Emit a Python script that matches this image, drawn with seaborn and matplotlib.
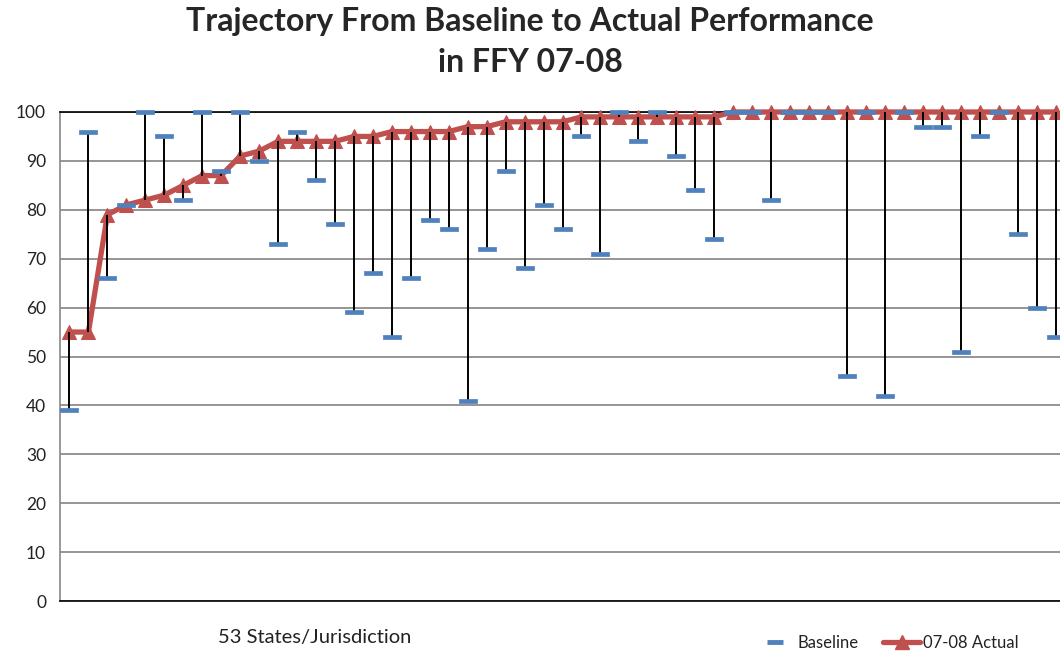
import numpy as np
import pandas as pd
import matplotlib
matplotlib.use("Agg")
import matplotlib.pyplot as plt
from matplotlib.lines import Line2D
from matplotlib.path import Path
import seaborn as sns

# Performance by state/jurisdiction, sorted by 07-08 actual
actual = [55, 55, 79, 81, 82, 83, 85, 87, 87, 91, 92, 94, 94, 94, 94, 95, 95, 96,
          96, 96, 96, 97, 97, 98, 98, 98, 98, 99, 99, 99, 99, 99, 99, 99, 99, 100,
          100, 100, 100, 100, 100, 100, 100, 100, 100, 100, 100, 100, 100, 100, 100,
          100, 100]
baseline = [39, 96, 66, 81, 100, 95, 82, 100, 88, 100, 90, 73, 96, 86, 77, 59, 67, 54,
            66, 78, 76, 41, 72, 88, 68, 81, 76, 95, 71, 100, 94, 100, 91, 84, 74, 100,
            100, 82, 100, 100, 100, 46, 100, 42, 100, 97, 97, 51, 95, 100, 75, 60, 54]
y_ticks = list(range(0, 101, 10))

df = pd.DataFrame({"state": np.arange(len(actual)), "actual": actual, "baseline": baseline})

sns.set_theme(style="white")
plt.rcParams["font.family"] = ["Lato", "DejaVu Sans"]

fig = plt.figure(figsize=(10.6, 6.54), dpi=100)
ax = fig.add_axes([60 / 1060, 1 - 601 / 654, 1005 / 1060, (601 - 112) / 654])

RED = "#C0504D"
BLUE = "#4F81BD"

# Actual performance line with triangle markers
sns.lineplot(data=df, x="state", y="actual", ax=ax, color=RED, linewidth=3.8,
             marker="^", markersize=10, markeredgecolor=RED, zorder=3, legend=False,
             clip_on=False)

# High-low connectors from baseline to actual
ax.vlines(df["state"], df["baseline"], df["actual"], color="black", linewidth=1.4,
          zorder=4, clip_on=False)

# Baseline as short thick bars
bar = Path([(-1, -0.25), (1, -0.25), (1, 0.25), (-1, 0.25), (-1, -0.25)],
           [Path.MOVETO, Path.LINETO, Path.LINETO, Path.LINETO, Path.CLOSEPOLY])
sns.scatterplot(data=df, x="state", y="baseline", ax=ax, marker=bar, s=150,
                color=BLUE, edgecolor=BLUE, linewidth=0.5, zorder=5, legend=False,
                clip_on=False)

ax.set_xlim(-0.5, len(actual) - 0.5)
ax.set_ylim(0, 100)
ax.set_yticks(y_ticks)
ax.set_yticklabels([str(t) for t in y_ticks], fontsize=12.5, color="#222222")
ax.set_xticks([])
ax.set_xlabel("")
ax.set_ylabel("")
ax.grid(axis="y", color="#8c8c8c", linewidth=1.3)
ax.set_axisbelow(True)
ax.tick_params(axis="y", length=4, width=1, color="#8c8c8c", direction="out", pad=6)

for side in ["left", "right", "top", "bottom"]:
    ax.spines[side].set_visible(False)
ax.spines["left"].set_visible(True)
ax.spines["left"].set_color("#8c8c8c")
ax.spines["bottom"].set_visible(True)
ax.spines["bottom"].set_color("black")
ax.spines["bottom"].set_linewidth(1.2)
ax.spines["top"].set_visible(True)
ax.spines["top"].set_color("black")
ax.spines["top"].set_linewidth(1.2)

fig.text(0.5, 1 - 22 / 654, "Trajectory From Baseline to Actual Performance",
         ha="center", va="center", fontsize=23, fontweight="bold")
fig.text(0.5, 1 - 63 / 654, "in FFY 07-08",
         ha="center", va="center", fontsize=23, fontweight="bold")

fig.text(315 / 1060, 1 - 638 / 654, "53 States/Jurisdiction", ha="center", va="center",
         fontsize=14.5, color="#222222")

handles = [
    Line2D([], [], linestyle="none", marker="_", markersize=12, markeredgewidth=3.5,
           color=BLUE),
    Line2D([], [], color=RED, linewidth=3.8, marker="^", markersize=10),
]
fig.legend(handles, ["Baseline", "07-08 Actual"], loc="center",
           bbox_to_anchor=(888 / 1060, 1 - 643 / 654), ncol=2, frameon=False,
           fontsize=12, handlelength=2.2, columnspacing=1.5, handletextpad=0.2,
           labelcolor="#222222")

fig.savefig("out.png", dpi=100)
